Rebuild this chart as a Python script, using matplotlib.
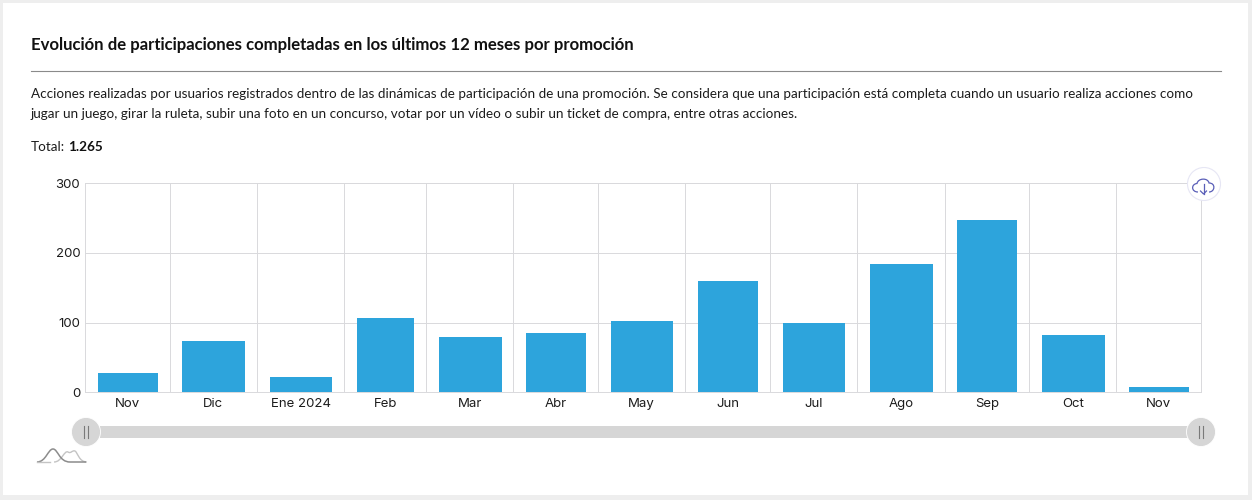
import datetime
import matplotlib
matplotlib.use('Agg')
import matplotlib.pyplot as plt
import matplotlib.dates as mdates
from matplotlib.patches import Circle, PathPatch, Rectangle
from matplotlib.path import Path

months = ['2023-11', '2023-12', '2024-01', '2024-02', '2024-03', '2024-04', '2024-05',
          '2024-06', '2024-07', '2024-08', '2024-09', '2024-10', '2024-11', '2024-12']
month_labels = ['Nov', 'Dic', 'Ene 2024', 'Feb', 'Mar', 'Abr', 'May', 'Jun', 'Jul', 'Ago', 'Sep', 'Oct', 'Nov']
participations = [28, 74, 22, 107, 79, 85, 103, 160, 100, 184, 247, 82, 7]
y_ticks = [0, 100, 200, 300]

title = 'Evolución de participaciones completadas en los últimos 12 meses por promoción'
desc_1 = ('Acciones realizadas por usuarios registrados dentro de las dinámicas de participación de una promoción. '
          'Se considera que una participación está completa cuando un usuario realiza acciones como')
desc_2 = 'jugar un juego, girar la ruleta, subir una foto en un concurso, votar por un vídeo o subir un ticket de compra, entre otras acciones.'

W, H = 1252, 500
TEXT_FONT = 'Lato'
AXIS_FONT = 'Inter'
INK = '#1c1c1c'

fig = plt.figure(figsize=(W / 100, H / 100), dpi=100, facecolor='#eeeeee')

# card and header, in pixel coordinates
bg = fig.add_axes([0, 0, 1, 1], zorder=0)
bg.set_xlim(0, W)
bg.set_ylim(H, 0)
bg.axis('off')
bg.add_patch(Rectangle((3, 3), 1245, 492, fc='white', ec='none'))
bg.text(31, 45, title, fontsize=12.1, fontweight='bold', family=TEXT_FONT, color='#111111', va='center')
bg.plot([31, 1221], [70.5, 70.5], color='#8a8a8a', lw=0.8)
bg.text(31, 94, desc_1, fontsize=9.74, family=TEXT_FONT, color=INK, va='center')
bg.text(31, 114, desc_2, fontsize=9.74, family=TEXT_FONT, color=INK, va='center')
total_label = bg.text(31, 147, 'Total:', fontsize=9.74, family=TEXT_FONT, color=INK, va='center')
fig.canvas.draw()
total_end = total_label.get_window_extent().x1 + 3
bg.text(total_end, 147, '1.265', fontsize=9.74, fontweight='bold', family=TEXT_FONT, color='#111111', va='center')

# bar chart on a real time axis, so the month columns have uneven widths
edges = [datetime.datetime.strptime(m, '%Y-%m') for m in months]
edge_nums = mdates.date2num(edges)
centers = (edge_nums[:-1] + edge_nums[1:]) / 2
widths = (edge_nums[1:] - edge_nums[:-1]) - 8.7

ax = fig.add_axes([85 / W, 1 - 392.3 / H, 1116 / W, 209 / H], zorder=1)
ax.patch.set_alpha(0)
ax.bar(centers + 0.15, participations, width=widths, color='#2da4dc', zorder=3)
ax.set_xlim(edge_nums[0], edge_nums[-1])
ax.set_ylim(0, 300)
ax.set_yticks(y_ticks)
ax.set_xticks(edge_nums)
ax.set_xticklabels([])
ax.set_xticks(centers, labels=month_labels, minor=True)
ax.tick_params(axis='x', which='major', length=0)
ax.tick_params(axis='x', which='minor', length=0, pad=4, labelsize=9.5, labelcolor=INK)
ax.tick_params(axis='y', length=0, pad=3.5, labelsize=9.5, labelcolor=INK)
for lab in ax.get_xticklabels(minor=True) + ax.get_yticklabels():
    lab.set_family(AXIS_FONT)
ax.grid(True, which='major', color='#d9d9dc', lw=0.7, zorder=0)
ax.set_axisbelow(True)
for side, spine in ax.spines.items():
    spine.set_color('#d9d9dc')
    spine.set_linewidth(0.7)
ax.spines['left'].set_visible(False)

# overlay for the chart controls
ui = fig.add_axes([0, 0, 1, 1], zorder=2)
ui.set_xlim(0, W)
ui.set_ylim(H, 0)
ui.axis('off')

# range slider
ui.add_patch(Rectangle((100, 426), 1088, 12, fc='#d6d6d6', ec='none'))
for cx in [86, 1201]:
    ui.add_patch(Circle((cx, 432), 14.5, fc='#d6d6d6', ec='white', lw=0.6))
    ui.plot([cx - 2, cx - 2], [426, 438], color='#7a7a7a', lw=0.8)
    ui.plot([cx + 2, cx + 2], [426, 438], color='#7a7a7a', lw=0.8)

# small curves icon under the slider
back = Path([(54, 462), (62, 462), (64, 450), (68, 452), (71, 454), (72, 450), (75, 451), (78, 453), (79, 462), (87, 462)],
            [Path.MOVETO, Path.CURVE4, Path.CURVE4, Path.CURVE4, Path.CURVE4, Path.CURVE4, Path.CURVE4,
             Path.CURVE4, Path.CURVE4, Path.CURVE4])
front = Path([(37, 462), (46, 462), (48, 449), (53, 449), (58, 449), (59, 462), (70, 462), (76, 462), (80, 462), (86, 462)],
             [Path.MOVETO, Path.CURVE4, Path.CURVE4, Path.CURVE4, Path.CURVE4, Path.CURVE4, Path.CURVE4,
              Path.CURVE4, Path.CURVE4, Path.CURVE4])
ui.add_patch(PathPatch(back, fc='none', ec='#c4c4c4', lw=1))
ui.add_patch(PathPatch(front, fc='none', ec='#8c8c8c', lw=1.1))
ui.plot([37, 50], [462, 462], color='#c4c4c4', lw=1)

# download button
ui.add_patch(Circle((1204, 184), 16.5, fc='white', ec='#e6e6f4', lw=0.8))
cloud = Path([(1198, 192), (1191, 192), (1191, 184), (1197, 183.5), (1198, 178), (1208, 177.5), (1209, 183),
              (1216, 183), (1215, 192), (1209, 192)],
             [Path.MOVETO, Path.CURVE4, Path.CURVE4, Path.CURVE4, Path.CURVE4, Path.CURVE4, Path.CURVE4,
              Path.CURVE4, Path.CURVE4, Path.CURVE4])
ui.add_patch(PathPatch(cloud, fc='none', ec='#5a5fb8', lw=0.9))
ui.plot([1203.5, 1203.5], [184, 194], color='#5a5fb8', lw=0.9)
ui.plot([1200.5, 1203.5, 1206.5], [191, 194, 191], color='#5a5fb8', lw=0.9)

fig.savefig('out.png', dpi=100, facecolor=fig.get_facecolor())
